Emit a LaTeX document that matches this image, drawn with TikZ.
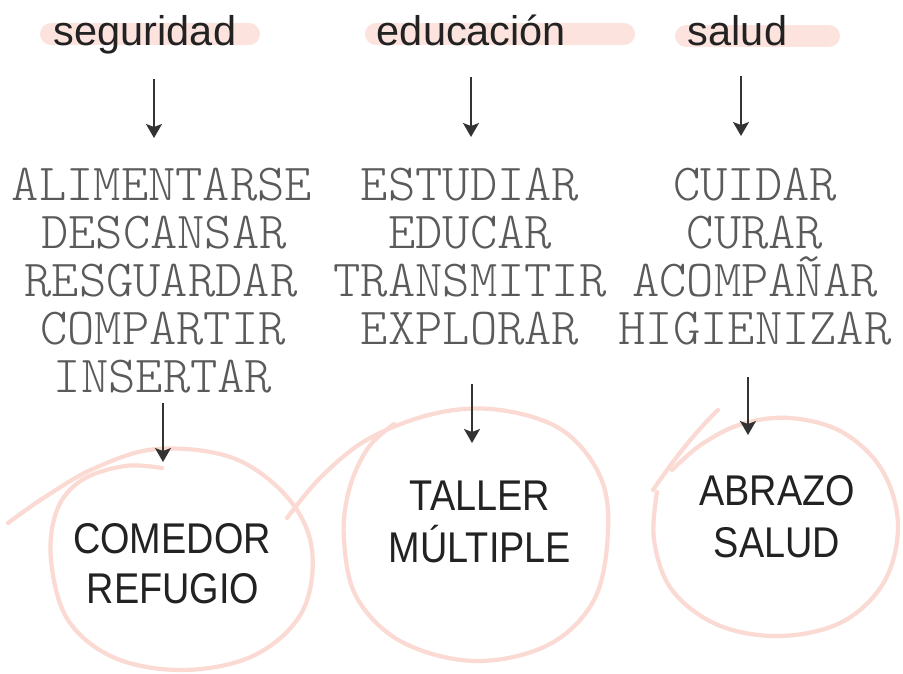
\documentclass[tikz,border=0pt]{standalone}
\usepackage{fontspec}
\setmainfont{Liberation Sans}
\newfontfamily\circfont[FakeStretch=0.88]{Liberation Sans}
\newcommand\verbfont{\fontencoding{TU}\fontfamily{lmtt}\fontseries{l}\fontshape{n}\fontsize{52}{52}\selectfont}
\usetikzlibrary{arrows.meta}
\definecolor{hl}{HTML}{FCE3DE}
\definecolor{ring}{HTML}{FADAD3}
\definecolor{ink}{HTML}{222222}
\definecolor{arrink}{HTML}{333333}
\definecolor{verbgray}{HTML}{5A5A5A}
\tikzset{
  hdr/.style={font=\fontsize{41.5}{41.5}\selectfont, text=ink, inner sep=0pt, anchor=base},
  verbword/.style={font=\verbfont, text=verbgray, inner sep=0pt, anchor=base},
  circtext/.style={font=\circfont\fontsize{43}{43}\selectfont, text=ink, inner sep=0pt, anchor=base},
  band/.style={draw=hl, line width=22pt, line cap=round},
  ringline/.style={draw=ring, line width=4.2pt, line cap=round, line join=round},
  arr/.style={draw=arrink, line width=1.5pt, -{Stealth[length=14pt,width=16pt,inset=3pt]}}
}
\begin{document}
\begin{tikzpicture}[x=1pt,y=-1pt]
\fill[white] (0,0) rectangle (903,673);
\useasboundingbox (0,0) rectangle (903,673);

% highlight bands
\draw[band] (51,34) -- (249,34);
\draw[band] (376,34) -- (624,34);
\draw[band] (686,36) -- (829,36);

% headers
\node[hdr] (h1) at (145,45) {seguridad};
\node[hdr] (h2) at (471.5,45) {educación};
\node[hdr] (h3) at (737.5,45) {salud};

% word lists
\node[verbword] (l1a) at (162,200) {ALIMENTARSE};
\node[verbword] (l1b) at (164,248) {DESCANSAR};
\node[verbword] (l1c) at (161,296) {RESGUARDAR};
\node[verbword] (l1d) at (163,344) {COMPARTIR};
\node[verbword] (l1e) at (163,392) {INSERTAR};

\node[verbword] (l2a) at (470,200) {ESTUDIAR};
\node[verbword] (l2b) at (470,248) {EDUCAR};
\node[verbword] (l2c) at (470,296) {TRANSMITIR};
\node[verbword] (l2d) at (470,344) {EXPLORAR};

\node[verbword] (l3a) at (755,200) {CUIDAR};
\node[verbword] (l3b) at (755,248) {CURAR};
\node[verbword] (l3c) at (755,296) {ACOMPAÑAR};
\node[verbword] (l3d) at (755,344) {HIGIENIZAR};

% hand-drawn rings
\draw[ringline] plot[smooth, tension=0.6] coordinates {
  (8,523) (45,497) (95,468) (157,449) (233,458) (288,498) (312,550)
  (302,612) (255,655) (185,670) (115,658) (68,620) (51,560) (57,510)
  (82,480) (125,466) (162,468)};
\draw[ringline] plot[smooth, tension=0.6] coordinates {
  (287,518) (322,476) (370,438) (437,413) (500,410) (562,430) (600,476)
  (608,532) (594,600) (548,645) (475,661) (402,642) (357,598) (344,540)
  (349,490) (368,448) (394,424)};
\draw[ringline] (718,410) .. controls (695,432) and (672,462) .. (653,490);
\draw[ringline] plot[smooth, tension=0.6] coordinates {
  (657,492) (654,540) (672,590) (718,625) (780,636) (842,622) (884,582)
  (898,525) (882,470) (842,432) (790,418) (742,424) (702,444) (672,470)};

% circle texts
\node[circtext] (c1a) at (172,553) {COMEDOR};
\node[circtext] (c1b) at (173,603) {REFUGIO};
\node[circtext] (c2a) at (480,510) {TALLER};
\node[circtext] (c2b) at (480,562) {MÚLTIPLE};
\node[circtext] (c3a) at (777,505) {ABRAZO};
\node[circtext] (c3b) at (777,557) {SALUD};

% arrows
\coordinate (a1s) at (154,79);  \coordinate (a1e) at (154,138);
\coordinate (a2s) at (471,77);  \coordinate (a2e) at (471,137);
\coordinate (a3s) at (741,76);  \coordinate (a3e) at (741,136);
\coordinate (a4s) at (163,403); \coordinate (a4e) at (163,462);
\coordinate (a5s) at (472,384); \coordinate (a5e) at (472,443);
\coordinate (a6s) at (748,377); \coordinate (a6e) at (748,435);
\draw[arr] (a1s) -- (a1e);
\draw[arr] (a2s) -- (a2e);
\draw[arr] (a3s) -- (a3e);
\draw[arr] (a4s) -- (a4e);
\draw[arr] (a5s) -- (a5e);
\draw[arr] (a6s) -- (a6e);
\end{tikzpicture}
\end{document}
